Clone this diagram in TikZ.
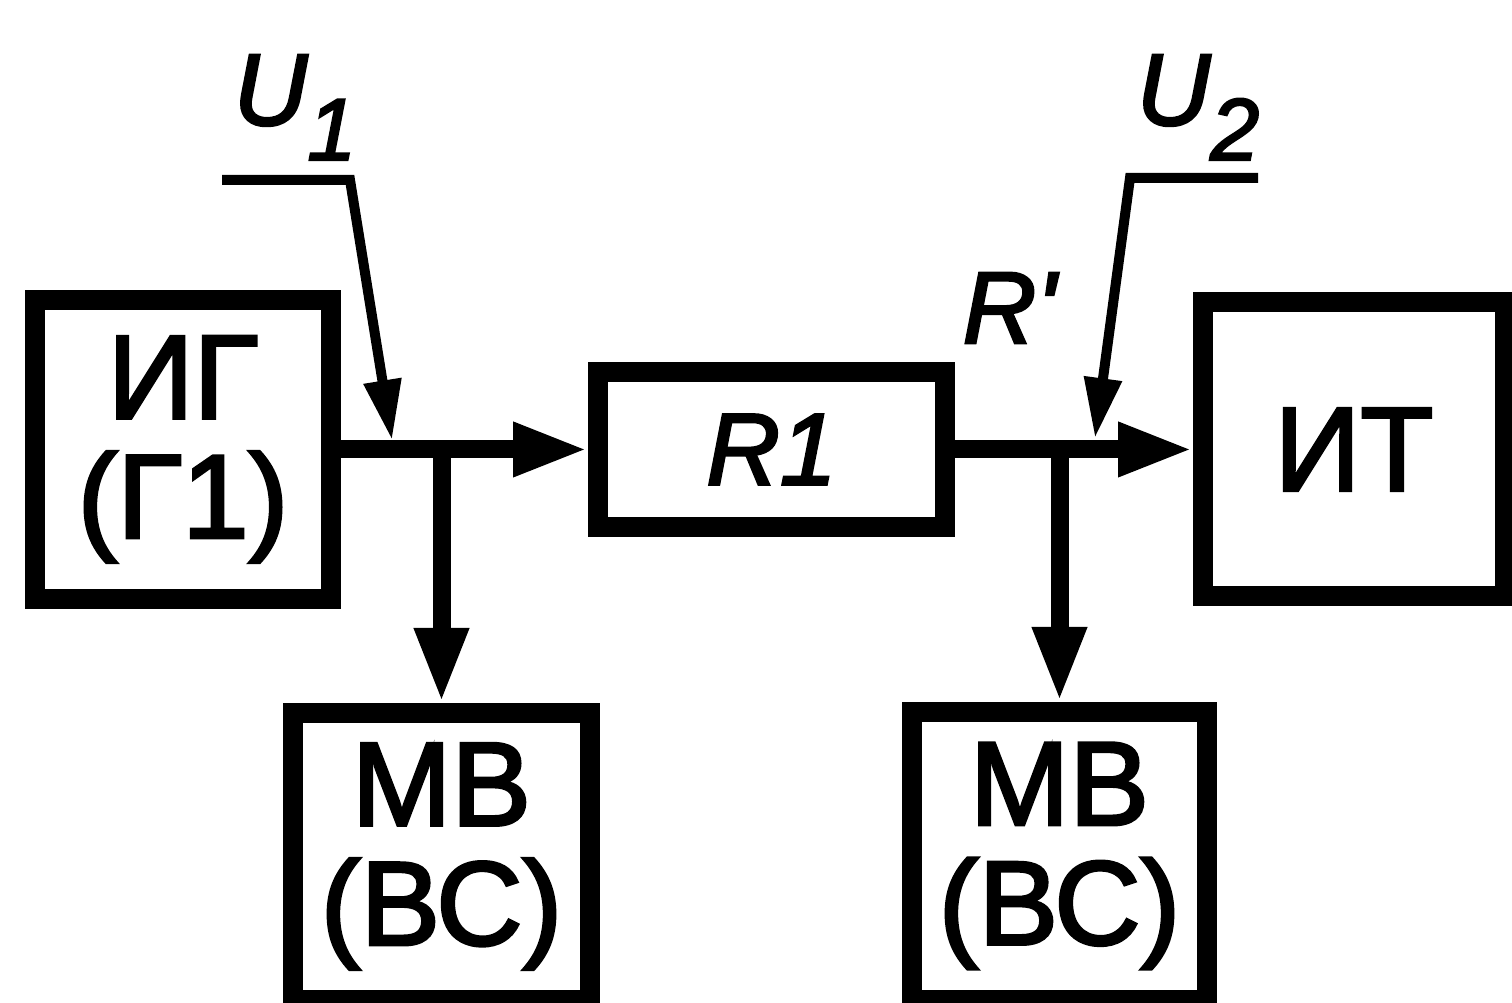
\documentclass[tikz,border=0pt]{standalone}
\usepackage{fontspec}
\setmainfont{Liberation Sans}[FakeBold=2.5]
\usetikzlibrary{arrows.meta}

\tikzset{
    block/.style={draw, line width=2mm, inner sep=0pt, align=center,
        font=\fontsize{34}{34}\selectfont},
    bus/.style={line width=1.8mm, -{Triangle[length=7.5mm,width=5mm]}},
    sig/.style={line width=1mm, -{Triangle[length=6mm,width=3.6mm]}},
    lbl/.style={inner sep=0pt, anchor=base west, font=\fontsize{29}{29}\selectfont\itshape}
}

\begin{document}
\begin{tikzpicture}
        \useasboundingbox (0, 0) rectangle (15.12, 10.03);

        \node[block, minimum width=2.96cm, minimum height=2.99cm] (ig) at (1.83, 5.535) {ИГ\\(Г1)};
        \node[block, minimum width=3.47cm, minimum height=1.55cm,
            font=\fontsize{29}{29}\selectfont\itshape] (r1) at (7.715, 5.535) {R1};
        \node[block, minimum width=3.02cm, minimum height=2.94cm] (it) at (13.54, 5.535) {ИТ};
        \node[block, minimum width=2.97cm, minimum height=2.87cm] (mv1) at (4.415, 1.465) {МВ\\(ВС)};
        \node[block, minimum width=2.95cm, minimum height=2.88cm] (mv2) at (10.595, 1.47) {МВ\\(ВС)};

        \node[lbl] (u1) at (2.33, 8.78) {U\raisebox{-0.35cm}{\fontsize{25}{25}\selectfont 1}};
        \node[lbl] (u2) at (11.36, 8.78) {U\raisebox{-0.35cm}{\fontsize{25}{25}\selectfont 2}};
        \node[lbl] (rp) at (9.62, 6.60) {R\textquotesingle};

        \coordinate (j1) at (mv1.north |- ig.east);
        \coordinate (j2) at (mv2.north |- r1.east);

        \coordinate (u1s) at (2.22, 8.23);
        \coordinate (u1c) at (3.50, 8.23);
        \coordinate (u1t) at (3.92, 5.63);
        \coordinate (u2s) at (12.58, 8.25);
        \coordinate (u2c) at (11.30, 8.25);
        \coordinate (u2t) at (10.95, 5.65);

        \draw[bus] (ig.east) -- (r1.west);
        \draw[bus] (r1.east) -- (it.west);
        \draw[bus] (j1) -- (mv1.north);
        \draw[bus] (j2) -- (mv2.north);

        \draw[sig] (u1s) -- (u1c) -- (u1t);
        \draw[sig] (u2s) -- (u2c) -- (u2t);
    \end{tikzpicture}
\end{document}
